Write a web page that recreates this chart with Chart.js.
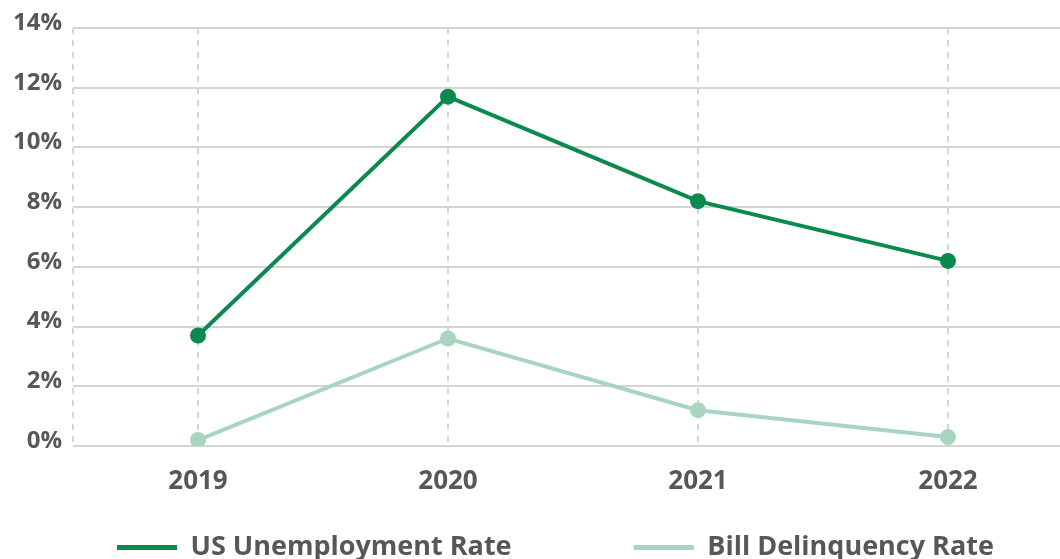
<!DOCTYPE html>
<html>
<head>
<meta charset="utf-8">
<script src="https://cdn.jsdelivr.net/npm/chart.js@4.4.0/dist/chart.umd.min.js"></script>
<style>
html, body { margin: 0; padding: 0; background: #fff; overflow: hidden; }
#wrap { width: 1083px; height: 559px; position: relative; }
</style>
</head>
<body>
<div id="wrap"><canvas id="chart_rates"></canvas></div>
<script>
var years = ['2019', '2020', '2021', '2022'];
var unemploymentRate = [3.7, 11.7, 8.2, 6.2];
var delinquencyRate = [0.2, 3.6, 1.2, 0.3];

var darkGreen = '#0b8a4f';
var lightGreen = '#a8d5bf';
var textGrey = '#575757';
var fontFamily = '"Open Sans", "DejaVu Sans", sans-serif';

// dashed line down the left edge of the plot, like the category grid lines
var leftEdgeDash = {
    id: 'leftEdgeDash',
    beforeDatasetsDraw: function (chart) {
        var a = chart.chartArea;
        var ctx = chart.ctx;
        ctx.save();
        ctx.strokeStyle = '#d6d6d6';
        ctx.lineWidth = 2;
        ctx.setLineDash([6, 6]);
        ctx.beginPath();
        ctx.moveTo(a.left, a.top);
        ctx.lineTo(a.left, a.bottom);
        ctx.stroke();
        ctx.restore();
    }
};

var chart_rates = new Chart(document.getElementById('chart_rates'), {
    type: 'line',
    data: {
        labels: years,
        datasets: [
            {
                label: 'US Unemployment Rate',
                data: unemploymentRate,
                borderColor: darkGreen,
                backgroundColor: darkGreen,
                pointBackgroundColor: darkGreen,
                pointBorderColor: darkGreen,
                borderWidth: 4,
                pointRadius: 6
            },
            {
                label: 'Bill Delinquency Rate',
                data: delinquencyRate,
                borderColor: lightGreen,
                backgroundColor: lightGreen,
                pointBackgroundColor: lightGreen,
                pointBorderColor: lightGreen,
                borderWidth: 4,
                pointRadius: 6
            }
        ]
    },
    options: {
        animation: false,
        responsive: true,
        maintainAspectRatio: false,
        layout: {
            padding: { top: 28, right: 3, bottom: -12, left: 0 }
        },
        plugins: {
            tooltip: { enabled: false },
            legend: {
                position: 'bottom',
                fullSize: false,
                labels: {
                    color: textGrey,
                    font: { family: fontFamily, size: 27, weight: 'bold' },
                    boxWidth: 60,
                    boxHeight: 5,
                    padding: 10,
                    generateLabels: function (chart) {
                        var items = Chart.defaults.plugins.legend.labels.generateLabels(chart);
                        items.forEach(function (it) { it.lineWidth = 0; });
                        items[0].text += '                ';
                        items[1].text += '     ';
                        return items;
                    }
                }
            }
        },
        scales: {
            x: {
                offset: true,
                grid: {
                    color: '#d6d6d6',
                    lineWidth: 2,
                    drawTicks: false
                },
                border: { display: false, dash: [6, 6] },
                ticks: {
                    color: textGrey,
                    padding: 20,
                    font: { family: fontFamily, size: 26, weight: 'bold' }
                },
                afterFit: function (scale) { scale.height = 78; }
            },
            y: {
                min: 0,
                max: 14,
                grid: {
                    color: '#d4d4d4',
                    lineWidth: 2,
                    drawTicks: false
                },
                border: { display: false },
                ticks: {
                    stepSize: 2,
                    color: textGrey,
                    padding: 11,
                    labelOffset: -5,
                    font: { family: fontFamily, size: 24, weight: 'bold' },
                    callback: function (v) { return v + '%'; }
                },
                afterFit: function (scale) { scale.width = 73; }
            }
        }
    },
    plugins: [leftEdgeDash]
});
</script>
</body>
</html>
